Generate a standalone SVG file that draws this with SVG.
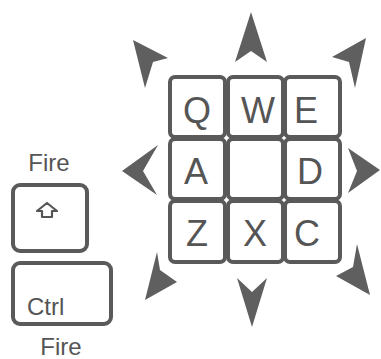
<svg xmlns="http://www.w3.org/2000/svg" width="381" height="359" viewBox="0 0 381 359">
<style>
.key{fill:#fff;stroke:#5a5a5a;stroke-width:4}
.lbl{font-family:"Liberation Sans",Arial,sans-serif;fill:#555;text-anchor:middle}
.big{font-size:36px}
.small{font-size:24px}
.arr{fill:#5f5f5f}
</style>
<rect width="381" height="359" fill="#fff"/>
<g id="key-Q"><rect class="key" x="170" y="77" width="55" height="60" rx="5"/><text class="lbl big" x="197" y="123">Q</text></g>
<g id="key-W"><rect class="key" x="228" y="77" width="55" height="60" rx="5"/><text class="lbl big" x="258" y="123">W</text></g>
<g id="key-E"><rect class="key" x="285" y="77" width="55" height="60" rx="5"/><text class="lbl big" x="306" y="123">E</text></g>
<g id="key-A"><rect class="key" x="170" y="139" width="55" height="60" rx="5"/><text class="lbl big" x="196" y="184">A</text></g>
<g id="key-S"><rect class="key" x="228" y="139" width="55" height="60" rx="5"/></g>
<g id="key-D"><rect class="key" x="285" y="139" width="55" height="60" rx="5"/><text class="lbl big" x="310" y="184">D</text></g>
<g id="key-Z"><rect class="key" x="170" y="201" width="55" height="61" rx="5"/><text class="lbl big" x="197" y="246">Z</text></g>
<g id="key-X"><rect class="key" x="228" y="201" width="55" height="61" rx="5"/><text class="lbl big" x="255" y="246">X</text></g>
<g id="key-C"><rect class="key" x="285" y="201" width="55" height="61" rx="5"/><text class="lbl big" x="307" y="246">C</text></g>
<g id="arrows">
<polygon class="arr" points="251,12 267,62 251,51 235,62"/>
<polygon class="arr" points="252,327 237,278 252,292 267,278"/>
<polygon class="arr" points="122,171 158,145 143,171 157,195"/>
<polygon class="arr" points="380,170 348,148 357,171 348,193"/>
<polygon class="arr" points="133,40 168,58 153,62 145,88"/>
<polygon class="arr" points="366,38 355,88 349,62 332,57"/>
<polygon class="arr" points="145,300 157,252 160,270 177,282"/>
<polygon class="arr" points="370,295 336,276 353,267 357,244"/>
</g>
<g id="key-shift">
<text class="lbl small" x="49" y="171">Fire</text>
<rect class="key" x="13" y="185" width="74" height="66" rx="7" stroke-width="3.5"/>
<polygon points="47,203 57,211 52,211 52,217 42,217 42,211 37,211" fill="none" stroke="#555" stroke-width="2.2" stroke-linejoin="round"/>
</g>
<g id="key-ctrl">
<rect class="key" x="13" y="263" width="98" height="61" rx="7" stroke-width="3.5"/>
<text class="lbl small" style="text-anchor:start" x="27" y="315">Ctrl</text>
<text class="lbl small" x="61" y="355">Fire</text>
</g>
</svg>
